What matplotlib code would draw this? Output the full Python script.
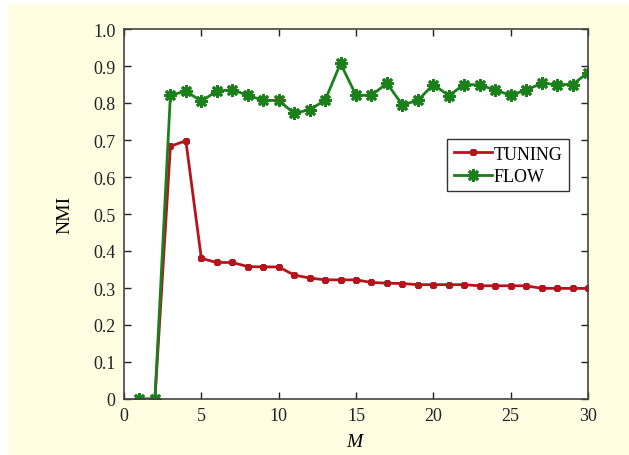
import matplotlib
matplotlib.use('Agg')
import matplotlib.pyplot as plt
from matplotlib.patches import Rectangle

M = list(range(1, 31))
tuning = [0.0, 0.0, 0.683, 0.698, 0.380, 0.369, 0.369, 0.358, 0.357, 0.357,
          0.335, 0.327, 0.322, 0.322, 0.322, 0.315, 0.313, 0.312, 0.309, 0.309,
          0.309, 0.309, 0.306, 0.306, 0.306, 0.306, 0.299, 0.299, 0.299, 0.299]
flow = [0.0, 0.0, 0.821, 0.832, 0.805, 0.832, 0.836, 0.821, 0.807, 0.807,
        0.772, 0.782, 0.807, 0.907, 0.821, 0.821, 0.853, 0.795, 0.807, 0.850,
        0.820, 0.850, 0.849, 0.835, 0.821, 0.835, 0.853, 0.850, 0.850, 0.882]
xticks = [0, 5, 10, 15, 20, 25, 30]
yticks = [0, 0.1, 0.2, 0.3, 0.4, 0.5, 0.6, 0.7, 0.8, 0.9, 1.0]
yticklabels = ['0', '0.1', '0.2', '0.3', '0.4', '0.5', '0.6', '0.7', '0.8', '0.9', '1.0']

red = '#b5141c'
green = '#1b7f1b'

plt.rcParams['font.family'] = ['Liberation Serif', 'DejaVu Serif']
plt.rcParams['mathtext.fontset'] = 'custom'
plt.rcParams['mathtext.it'] = 'Liberation Serif:italic'

fig = plt.figure(figsize=(6.29, 4.56), dpi=100)
fig.patch.set_facecolor('white')
# yellow page background
fig.patches.append(Rectangle((8 / 629, 0), 1, 451 / 456, transform=fig.transFigure,
                             facecolor='#fffde2', edgecolor='none', zorder=-10))

ax = fig.add_axes([124 / 629, 56 / 456, 464 / 629, 370 / 456])
ax.set_facecolor('white')

ax.plot(M, tuning, color=red, lw=2, marker=(8, 2, 0), ms=5, mew=2.2,
        mec=red, label='TUNING')
ax.plot(M, flow, color=green, lw=2, marker=(8, 2, 0), ms=9, mew=2.0,
        mec=green, label='FLOW')

ax.set_xlim(0, 30)
ax.set_ylim(0, 1.0)
ax.set_xticks(xticks)
ax.set_yticks(yticks)
ax.set_yticklabels(yticklabels)
ax.tick_params(direction='in', top=True, right=True, length=5, width=1,
               colors='#222222', labelsize=13, pad=6)
for sp in ax.spines.values():
    sp.set_color('#444444')
    sp.set_linewidth(1.2)

ax.set_xlabel('$M$', fontsize=14, labelpad=6)
ax.set_ylabel('NMI', fontsize=14, labelpad=14)

leg = ax.legend(loc='upper left', bbox_to_anchor=(0.697, 0.702), fontsize=13,
                frameon=True, fancybox=False, handlelength=2.1, handletextpad=0.1,
                borderpad=0.35, labelspacing=0.3, borderaxespad=0)
leg.get_frame().set_edgecolor('black')
leg.get_frame().set_linewidth(1.0)

fig.savefig('out.png', dpi=100, facecolor=fig.get_facecolor())
